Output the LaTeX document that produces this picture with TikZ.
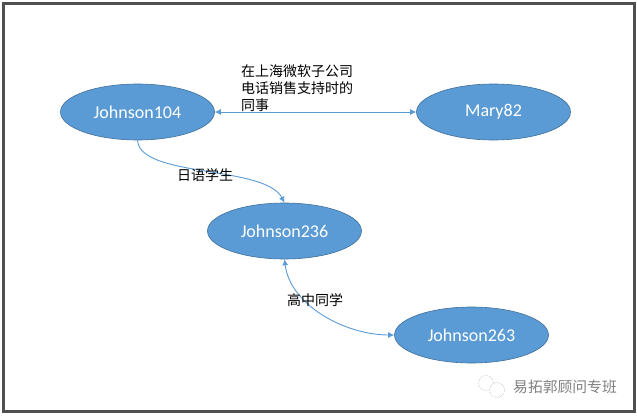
\documentclass[tikz,border=0pt]{standalone}
\usepackage{fontspec}
\setmainfont{Carlito}
\newfontfamily\cjk{Noto Sans CJK SC}
\usetikzlibrary{shapes.geometric}
\usetikzlibrary{arrows.meta}
\definecolor{personblue}{HTML}{5B9BD5}
\definecolor{persondark}{HTML}{41719C}
\definecolor{framegray}{HTML}{505050}
\tikzset{person/.style={ellipse, draw=persondark, fill=personblue, line width=0.6pt, minimum width=154pt, minimum height=56pt, inner sep=0pt, text=white, font=\fontsize{18}{20}\selectfont}}
\tikzset{relation/.style={draw=personblue, line width=0.9pt, {Latex[length=6pt,width=6pt]}-{Latex[length=6pt,width=6pt]}}}
\tikzset{caption/.style={inner sep=0pt, text=black, font=\cjk\fontsize{14}{16.6}\selectfont, align=left}}
\tikzset{wechat/.style={draw=gray!55, circle, densely dotted, line width=0.6pt, minimum size=15pt, inner sep=0pt}}

\begin{document}
\begin{tikzpicture}[x=1pt, y=-1pt]
%%% frame %%%
      \useasboundingbox (0,0) rectangle (637,415);
      \fill[white] (0,0) rectangle (637,415);
      \node[draw=framegray, line width=3pt, minimum width=631pt, minimum height=408pt, inner sep=0pt] (frame) at (319,207.5) {};

%%% people %%%
      \node[person] (johnson104) at (137.5,112) {Johnson104};
      \node[person] (mary82) at (493.5,112) {Mary82};
      \node[person] (johnson236) at (284.5,231) {Johnson236};
      \node[person] (johnson263) at (471.5,335) {Johnson263};

%%% relations %%%
      \draw[relation] (johnson104.east) -- (mary82.west);
      %%
      \draw[draw=personblue, line width=0.9pt, -{Latex[length=6pt,width=6pt]}] (johnson104.south) .. controls (140,178) and (265,165) .. (johnson236.north);
      %%
      \draw[relation] (johnson236.south) .. controls (290,305) and (345,335) .. (johnson263.west);

%%% labels %%%
      \node[caption, anchor=north west] (colleague) at (241,65) {在上海微软子公司\\电话销售支持时的\\同事};
      \node[caption] (student) at (205,175.5) {日语学生};
      \node[caption] (classmate) at (315,300) {高中同学};

%%% watermark %%%
      \node[wechat] (iconleft) at (486,383) {};
      \node[wechat, fill=white] (iconright) at (497,390) {};
      \node[inner sep=0pt, text=gray, font=\cjk\fontsize{14.8}{16}\selectfont] (mark) at (565,387) {易拓郭顾问专班};
\end{tikzpicture}
\end{document}
